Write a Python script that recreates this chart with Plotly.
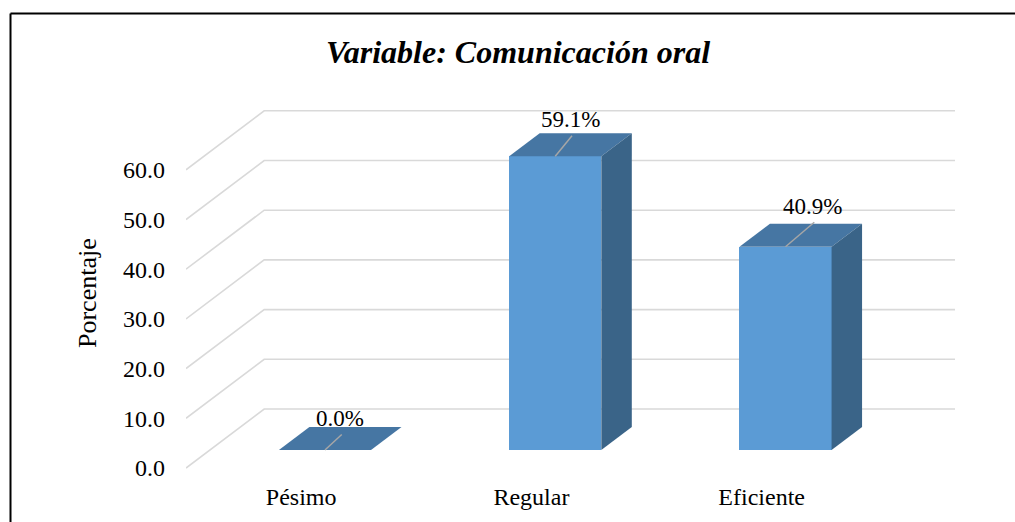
import plotly.graph_objects as go

# ---------------- data ----------------
categories = ["Pésimo", "Regular", "Eficiente"]
values = [0.0, 59.1, 40.9]
value_labels = ["0.0%", "59.1%", "40.9%"]
y_ticks = [0, 10, 20, 30, 40, 50, 60]
y_tick_labels = ["0.0", "10.0", "20.0", "30.0", "40.0", "50.0", "60.0"]
title_text = "Variable: Comunicación oral"
y_title = "Porcentaje"

# ---------------- style / geometry ----------------
W, H = 1015, 522
ML = 186
MR = W - 955
MT = 102
MB = H - 484
PLOT_W = W - ML - MR
PLOT_H = H - MT - MB

DX = 0.3395                 # horizontal shift (category units) for full floor depth
X_LO, X_HI = -0.5, 2.5 + DX
PX_X = PLOT_W / (X_HI - X_LO)
PX_Y = 4.97                 # pixels per value unit
FLOOR_PX = 468              # pixel row of value 0 at front edge
Y_LO = -(H - MB - FLOOR_PX) / PX_Y
Y_HI = Y_LO + PLOT_H / PX_Y
DY = 59 / PX_Y              # vertical shift (value units) for full floor depth

ZF, ZB = 0.305, 0.695       # bar front/back depth
HW = 0.2                    # bar half width

FRONT = "#5B9BD5"
TOP = "#4676A3"
SIDE = "#3A6488"
GRID = "#D9D9D9"
LEADER = "#A6A6A6"
FONT = "Liberation Serif, Times New Roman, serif"
LABEL_SHIFT_PX = [(0, 20), (0, 25), (12, 29)]


def proj(x, v, z):
    return x + z * DX, v + z * DY


fig = go.Figure()

# front faces as bars
fig.add_trace(go.Bar(
    x=[i + ZF * DX for i in range(len(values))],
    y=values,
    base=[ZF * DY] * len(values),
    width=2 * HW,
    marker=dict(color=FRONT, line=dict(width=0)),
    hoverinfo="skip", showlegend=False,
))

for i, v in enumerate(values):
    # top face
    pts = [proj(i - HW, v, ZF), proj(i + HW, v, ZF), proj(i + HW, v, ZB), proj(i - HW, v, ZB), proj(i - HW, v, ZF)]
    fig.add_trace(go.Scatter(x=[p[0] for p in pts], y=[p[1] for p in pts], mode="lines",
                             fill="toself", fillcolor=TOP, line=dict(width=0, color=TOP),
                             hoverinfo="skip", showlegend=False))
    # side face
    if v > 0:
        pts = [proj(i + HW, 0, ZF), proj(i + HW, v, ZF), proj(i + HW, v, ZB), proj(i + HW, 0, ZB), proj(i + HW, 0, ZF)]
        fig.add_trace(go.Scatter(x=[p[0] for p in pts], y=[p[1] for p in pts], mode="lines",
                                 fill="toself", fillcolor=SIDE, line=dict(width=0, color=SIDE),
                                 hoverinfo="skip", showlegend=False))

# data labels with leader lines
annotations = []
for i, (v, lab) in enumerate(zip(values, value_labels)):
    cx, cy = proj(i, v, 0.5)
    xs, ys = LABEL_SHIFT_PX[i]
    annotations.append(dict(x=cx, y=cy, xref="x", yref="y", text=lab, showarrow=False,
                            xshift=xs, yshift=ys, xanchor="center", yanchor="middle",
                            font=dict(family=FONT, size=23, color="black")))
    sx, sy = proj(i, v, ZF)
    ex = cx + (xs + 1.5) / PX_X
    ey = cy + (ys - 16) / PX_Y
    fig.add_trace(go.Scatter(x=[sx, ex], y=[sy, ey], mode="lines",
                             line=dict(color=LEADER, width=1.5),
                             hoverinfo="skip", showlegend=False))

# y axis title
annotations.append(dict(x=0, y=0.5, xref="paper", yref="paper", text=y_title, showarrow=False,
                        textangle=-90, xanchor="center", yanchor="middle",
                        xshift=87 - ML,
                        font=dict(family=FONT, size=26, color="black")))

# 3D gridlines (left wall diagonal + back wall horizontal)
shapes = []
for t in y_ticks:
    a = proj(X_LO, t, 0)
    b = proj(X_LO, t, 1)
    c = proj(2.5, t, 1)
    shapes.append(dict(type="path", xref="x", yref="y", layer="below",
                       path=f"M {a[0]},{a[1]} L {b[0]},{b[1]} L {c[0]},{c[1]}",
                       line=dict(color=GRID, width=1.6)))


# outer chart border (top and left edges visible)
def px2paper_x(px):
    return (px - ML) / PLOT_W


def px2paper_y(py):
    return (H - MB - py) / PLOT_H


shapes.append(dict(type="line", xref="paper", yref="paper", layer="above",
                   x0=px2paper_x(10.5), x1=px2paper_x(1030), y0=px2paper_y(13.5), y1=px2paper_y(13.5),
                   line=dict(color="black", width=2)))
shapes.append(dict(type="line", xref="paper", yref="paper", layer="above",
                   x0=px2paper_x(10.5), x1=px2paper_x(10.5), y0=px2paper_y(13.5), y1=px2paper_y(540),
                   line=dict(color="black", width=2)))

fig.update_layout(
    width=W, height=H, autosize=False,
    margin=dict(l=ML, r=MR, t=MT, b=MB, pad=0, autoexpand=False),
    paper_bgcolor="white", plot_bgcolor="white",
    title=dict(text=title_text, x=518 / W, xref="container", xanchor="center",
               y=1 - 52 / H, yref="container", yanchor="middle",
               font=dict(family=FONT, size=32, color="black", weight="bold", style="italic")),
    shapes=shapes,
    annotations=annotations,
    showlegend=False,
    bargap=0,
)
fig.update_xaxes(range=[X_LO, X_HI], tickvals=list(range(len(categories))), ticktext=categories,
                 showgrid=False, zeroline=False, showline=False, ticks="", automargin=False,
                 tickfont=dict(family=FONT, size=24, color="black"), ticklabelstandoff=-4,
                 fixedrange=True)
fig.update_yaxes(range=[Y_LO, Y_HI], tickvals=y_ticks, ticktext=y_tick_labels,
                 showgrid=False, zeroline=False, showline=False, ticks="", automargin=False,
                 tickfont=dict(family=FONT, size=24, color="black"), ticklabelstandoff=20,
                 fixedrange=True)

fig.write_html(
    "out.html",
    config={"displayModeBar": False, "staticPlot": True},
    post_script="document.body.style.margin='0';document.body.style.overflow='hidden';",
)
